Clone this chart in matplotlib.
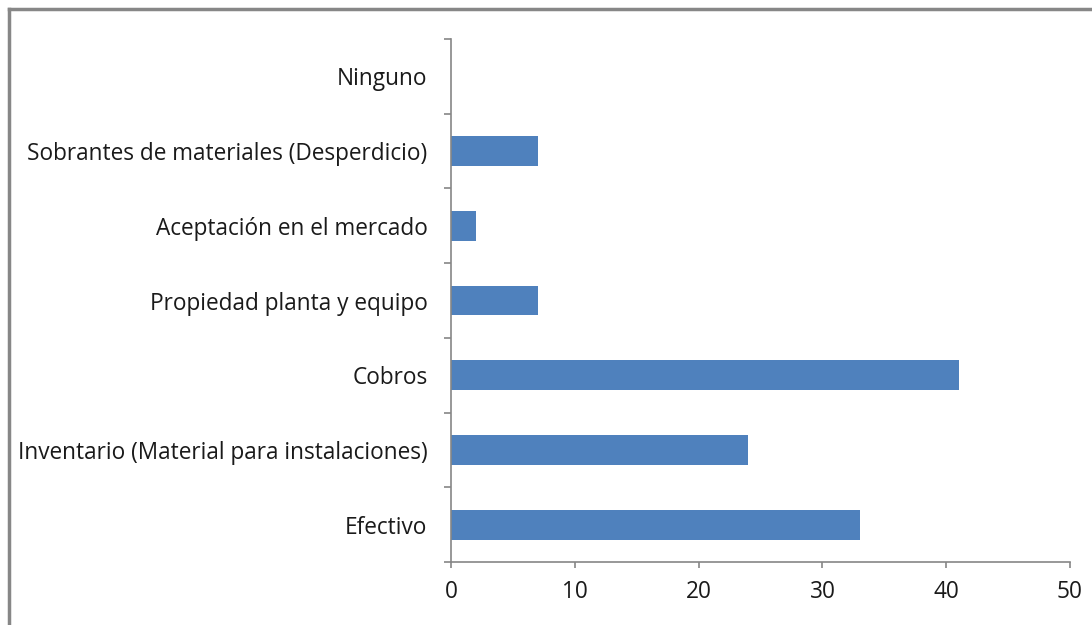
import matplotlib
matplotlib.use("Agg")
import matplotlib.pyplot as plt
from matplotlib.lines import Line2D
import numpy as np

categories = [
    "Efectivo",
    "Inventario (Material para instalaciones)",
    "Cobros",
    "Propiedad planta y equipo",
    "Aceptación en el mercado",
    "Sobrantes de materiales (Desperdicio)",
    "Ninguno",
]
values = [33, 24, 41, 7, 2, 7, 0]
x_ticks = [0, 10, 20, 30, 40, 50]

plt.rcParams["font.family"] = ["Open Sans", "DejaVu Sans"]

W, H = 1092, 625
fig = plt.figure(figsize=(W / 100, H / 100), dpi=100)
ax = fig.add_axes([451 / W, 1 - 562 / H, (1070 - 451) / W, (562 - 39) / H])

pos = np.arange(len(categories))
ax.barh(pos, values, height=0.4, color="#4F81BD", zorder=2)

ax.set_xlim(0, 50)
ax.set_ylim(-0.5, len(categories) - 0.5)
ax.set_xticks(x_ticks)
ax.set_xticklabels([str(t) for t in x_ticks])
ax.set_yticks(pos)
ax.set_yticklabels(categories)
ax.set_yticks(np.arange(-0.5, len(categories), 1.0), minor=True)

axis_col = "#868686"
for side in ["top", "right"]:
    ax.spines[side].set_visible(False)
for side in ["left", "bottom"]:
    ax.spines[side].set_color(axis_col)
    ax.spines[side].set_linewidth(1.2)

ax.tick_params(axis="y", which="major", length=0, pad=17, labelsize=16.3,
               labelcolor="#1a1a1a")
ax.tick_params(axis="y", which="minor", length=5, width=1.2, color=axis_col)
ax.tick_params(axis="x", which="major", length=4.5, width=1.2, color=axis_col,
               pad=8.5, labelsize=16.3, labelcolor="#1a1a1a")

# chart area border
border = "#878787"
fig.add_artist(Line2D([9 / W, 1], [1 - 9 / H, 1 - 9 / H], color=border,
                      lw=2.5, transform=fig.transFigure))
fig.add_artist(Line2D([9 / W, 9 / W], [0, 1 - 9 / H], color=border,
                      lw=2.5, transform=fig.transFigure))

fig.savefig("out.png", dpi=100, facecolor="white")
